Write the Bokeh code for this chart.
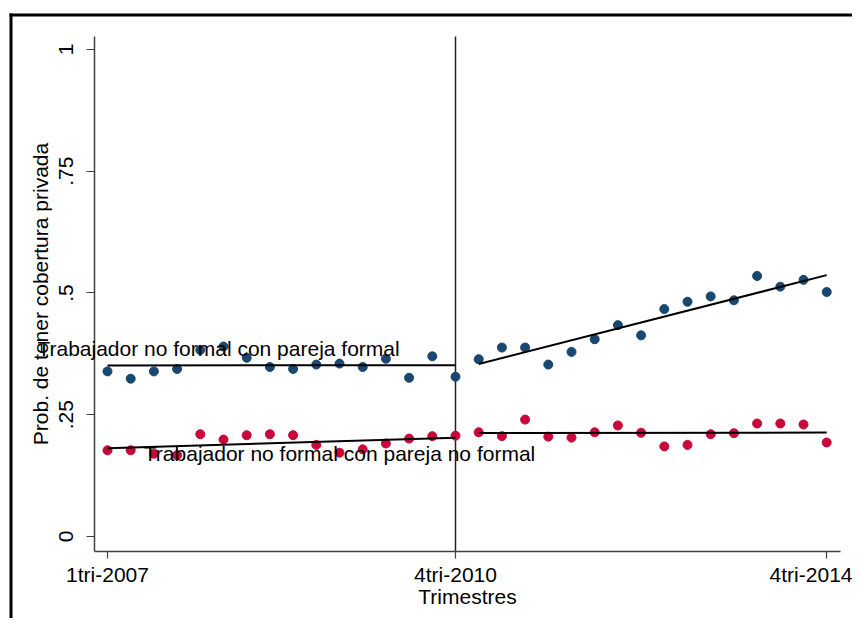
import numpy as np
from bokeh.plotting import figure
from bokeh.models import FixedTicker, Label, BoxAnnotation, Range1d
from bokeh.embed import file_html
from bokeh.resources import INLINE

# ---------------- data ----------------
quarters = list(range(1, 33))
tick_positions = [1, 16, 32]
tick_labels = ["1tri-2007", "4tri-2010", "4tri-2014"]
y_ticks = [0, 0.25, 0.5, 0.75, 1]
y_tick_labels = ["0", ".25", ".5", ".75", "1"]
cutoff = 16

formal_partner = [0.339, 0.324, 0.339, 0.344, 0.383, 0.390, 0.367, 0.348,
                  0.344, 0.353, 0.355, 0.348, 0.365, 0.326, 0.370, 0.328,
                  0.364, 0.388, 0.388, 0.353, 0.379, 0.405, 0.434, 0.413,
                  0.467, 0.482, 0.493, 0.485, 0.535, 0.513, 0.527, 0.502]
informal_partner = [0.177, 0.177, 0.170, 0.167, 0.210, 0.199, 0.208, 0.210,
                    0.208, 0.188, 0.172, 0.179, 0.191, 0.201, 0.206, 0.207,
                    0.214, 0.206, 0.240, 0.205, 0.203, 0.214, 0.228, 0.213,
                    0.185, 0.188, 0.210, 0.212, 0.232, 0.232, 0.230, 0.193]

label_formal = "Trabajador no formal con pareja formal"
label_informal = "Trabajador no formal con pareja no formal"
label_formal_pos = (-2.02, 0.385)
label_informal_pos = (2.565, 0.170)

# plot region (axis extents) in data units
x_axis_span = (0.4397, 32.595)
y_axis_span = (-0.0308, 1.0267)

BLUE = "#1a476f"
RED = "#c8083a"
FONT = "Liberation Sans"
FS = "21px"

W, H = 852, 618
p = figure(width=W, height=H, output_backend="svg", toolbar_location=None,
           title=None,
           x_range=Range1d(-3.612, 33.112), y_range=Range1d(-0.1684, 1.1006),
           min_border_left=0, min_border_right=0, min_border_top=0,
           min_border_bottom=0)
p.outline_line_color = None
p.xgrid.visible = False
p.ygrid.visible = False
p.background_fill_color = "white"
p.border_fill_color = "white"

# axes
for ax in (p.xaxis[0], p.yaxis[0]):
    ax.axis_line_color = "#404040"
    ax.axis_line_width = 1.5
    ax.major_tick_line_color = "#404040"
    ax.major_tick_line_width = 1.2
    ax.major_tick_in = 0
    ax.minor_tick_line_color = None
    ax.major_label_text_font = FONT
    ax.major_label_text_font_size = FS
    ax.major_label_text_color = "black"
    ax.axis_label_text_font = FONT
    ax.axis_label_text_font_size = FS
    ax.axis_label_text_font_style = "normal"
    ax.axis_label_text_color = "black"

p.xaxis.ticker = FixedTicker(ticks=tick_positions)
p.xaxis.major_label_overrides = dict(zip(tick_positions, tick_labels))
p.xaxis.axis_label = "Trimestres"
p.xaxis.bounds = x_axis_span
p.xaxis.fixed_location = y_axis_span[0]
p.xaxis.major_tick_out = 7
p.xaxis.major_label_standoff = 5
p.xaxis.axis_label_standoff = -5

p.yaxis.ticker = FixedTicker(ticks=y_ticks)
p.yaxis.major_label_overrides = dict(zip(y_ticks, y_tick_labels))
p.yaxis.major_label_orientation = "vertical"
p.yaxis.axis_label = "Prob. de tener cobertura privada"
p.yaxis.bounds = y_axis_span
p.yaxis.fixed_location = x_axis_span[0]
p.yaxis.major_tick_out = 8
p.yaxis.major_label_standoff = 13
p.yaxis.axis_label_standoff = 5

# cutoff line
p.segment(x0=[cutoff], y0=[y_axis_span[0]], x1=[cutoff], y1=[y_axis_span[1]],
          line_color="#202020", line_width=1.5)

# points
p.scatter(quarters, formal_partner, size=9, color=BLUE, line_color=BLUE)
p.scatter(quarters, informal_partner, size=9, color=RED, line_color=RED)

# linear fits, before and after the cutoff
q = np.array(quarters)
for series in (formal_partner, informal_partner):
    s = np.array(series)
    for mask in (q <= cutoff, q > cutoff):
        xs = q[mask]
        b, a = np.polyfit(xs, s[mask], 1)
        xe = np.array([xs.min(), xs.max()])
        p.line(xe, a + b * xe, line_color="black", line_width=2)

# labels
p.add_layout(Label(x=label_formal_pos[0], y=label_formal_pos[1], text=label_formal,
                   text_font=FONT, text_font_size=FS, text_color="black",
                   text_baseline="alphabetic", text_align="left"))
p.add_layout(Label(x=label_informal_pos[0], y=label_informal_pos[1], text=label_informal,
                   text_font=FONT, text_font_size=FS, text_color="black",
                   text_baseline="alphabetic", text_align="left"))

# outer frame of the graph image
p.add_layout(BoxAnnotation(left=9, right=W, top=13, bottom=16,
                           left_units="canvas", right_units="canvas",
                           top_units="canvas", bottom_units="canvas",
                           fill_color="black", fill_alpha=1, line_color=None))
p.add_layout(BoxAnnotation(left=9, right=12, top=13, bottom=H,
                           left_units="canvas", right_units="canvas",
                           top_units="canvas", bottom_units="canvas",
                           fill_color="black", fill_alpha=1, line_color=None))

open("out.html", "w").write(file_html(p, INLINE))
